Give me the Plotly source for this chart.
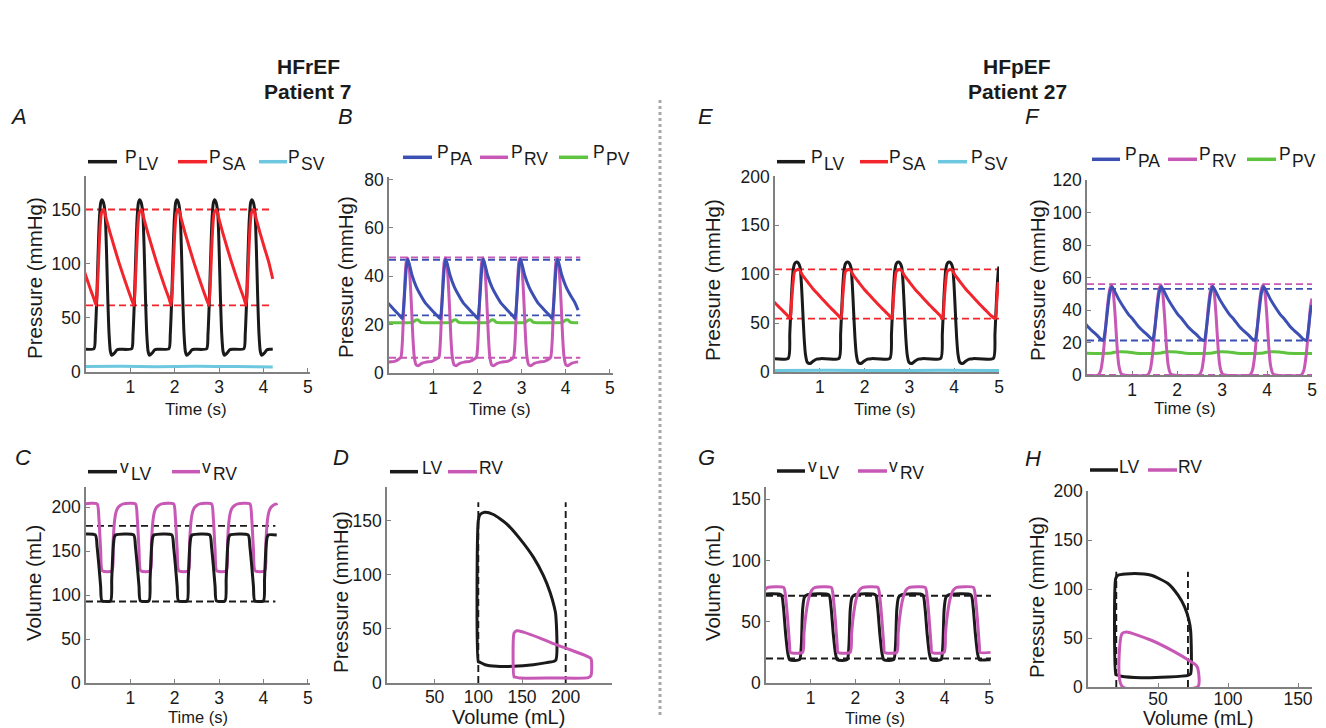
import plotly.graph_objects as go

W, H = 1326, 728
FONT = "Liberation Sans, Arial, Helvetica, sans-serif"
TXT = "#1a1a1a"
BLACK = "#1a1a1a"
RED = "#f2242c"
CYAN = "#6dc8df"
BLUE = "#3c4fb3"
PINK = "#c858b6"
GREEN = "#5ec43f"
AXIS = "#808080"

# ---------------- data ----------------
# Each waveform is one cardiac cycle (offset from a beat marker, value)
# repeated at the beat times of its panel.

# HFrEF (patient 7) - systemic pressures, panel A; beat marker = P_LV peak (s)
A_BEATS = [-0.485, 0.36, 1.21, 2.05, 2.90, 3.74]
A_END = 4.21
A_PLV_OFF = [-0.18, -0.15, -0.12, -0.09, -0.06, -0.03, 0.0, 0.03, 0.07, 0.10, 0.13, 0.16, 0.19, 0.22, 0.28, 0.34, 0.40]
A_PLV = [21.5, 35, 65, 105, 140, 156, 159, 157, 147, 115, 70, 35, 19, 15.5, 17.5, 20.5, 21]
A_PSA_OFF = [-0.13, -0.10, -0.07, -0.04, -0.01, 0.04, 0.10, 0.18, 0.28, 0.38, 0.48, 0.58, 0.66]
A_PSA = [61.5, 80, 110, 135, 147, 150, 141, 129, 115, 101.5, 89, 77, 68]
A_PSV_T = [0, 0.8, 1.6, 2.5, 3.4, 4.21]
A_PSV = [5.0, 5.3, 4.9, 5.3, 5.0, 4.6]
A_PSA_LIM = [150, 61.5]

# HFrEF - pulmonary pressures, panel B; beat marker = P_PA peak (s)
B_BEATS = [-0.425, 0.42, 1.28, 2.13, 2.97, 3.81]
B_END = 4.28
B_PPA_OFF = [-0.12, -0.09, -0.06, -0.03, 0.0, 0.04, 0.10, 0.20, 0.30, 0.40, 0.50, 0.60, 0.68]
B_PPA = [22.5, 27, 35, 43, 47, 45, 40.5, 35.5, 32, 29, 27, 25, 23.5]
B_PRV_OFF = [-0.15, -0.12, -0.09, -0.06, -0.03, 0.0, 0.03, 0.06, 0.09, 0.12, 0.15, 0.19, 0.24, 0.32, 0.42, 0.55, 0.65]
B_PRV = [6.5, 12, 25, 38, 46, 47.5, 45, 38, 27, 15, 7, 3.5, 3, 4, 4.5, 4.8, 5.8]
B_PPV_OFF = [-0.12, 0.12, 0.18, 0.24, 0.30, 0.45]
B_PPV = [20.8, 20.9, 21.8, 21.9, 20.9, 20.8]
B_PPA_LIM = [46.8, 23.8]
B_PRV_LIM = [47.8, 6.3]

# HFrEF - ventricular volumes, panel C; beat marker = start of LV ejection (s)
C_BEATS = [-0.65, 0.21, 1.075, 1.935, 2.79, 3.655]
C_END = 4.30
C_VLV_OFF = [0.0, 0.04, 0.08, 0.12, 0.15, 0.345, 0.37, 0.40, 0.43, 0.46]
C_VLV = [168.5, 155, 134, 110, 93.5, 93.5, 118, 152, 166, 168.5]
C_VRV_OFF = [0.04, 0.08, 0.12, 0.16, 0.375, 0.40, 0.435, 0.47, 0.51, 0.56, 0.63]
C_VRV = [203.8, 188, 152, 127.6, 127.6, 160, 185, 195, 199.5, 202, 203.8]
C_VLV_LIM = [178.8, 92.8]

# HFrEF - pressure-volume loops, panel D
D_LV_V = [100, 100, 102, 107.6, 117.2, 132.4, 147.7, 163, 174.4, 182, 187, 188.5, 188.5, 178.2, 163, 140.1, 121, 107.7, 101, 100]
D_LV_P = [19.4, 150, 155.6, 157.7, 155.6, 147, 133.1, 116.2, 99.3, 84, 70, 64, 20.9, 18.8, 16.9, 15.4, 15.4, 16.9, 19.4, 19.4]
D_RV_V = [140.9, 140.9, 144, 151.6, 170.6, 185.9, 205, 224, 229, 229, 226, 186, 147.7, 142, 140.9]
D_RV_P = [5.5, 46.1, 48.3, 47, 41.5, 36.3, 30.7, 24.9, 22.4, 7, 4.9, 4.6, 4.6, 5.5, 5.5]
D_V_LIM = [100, 200]
D_V_LIM_TOP = 167

# HFpEF (patient 27) - systemic pressures, panel E; beat marker = P_LV peak (s)
E_BEATS = [-0.655, 0.48, 1.615, 2.75, 3.885, 5.06]
E_END = 5.0
E_PLV_OFF = [-0.185, -0.15, -0.11, -0.075, -0.04, 0.0, 0.04, 0.08, 0.11, 0.14, 0.17, 0.20, 0.24, 0.30, 0.37, 0.45, 0.55]
E_PLV = [14, 39, 80, 104, 111, 112.5, 111.5, 107, 90, 62, 35, 18, 10, 8.6, 11, 13.2, 13.7]
E_PSA_OFF = [-0.14, -0.11, -0.075, -0.04, 0.05, 0.15, 0.26, 0.37, 0.48, 0.59, 0.70, 0.81, 0.93]
E_PSA = [54.6, 72, 92, 103, 105, 98, 91.5, 85, 79.5, 74, 68.5, 63.5, 58]
E_PSV_T = [0, 1.2, 2.5, 3.7, 5.0]
E_PSV = [1.5, 1.8, 1.5, 1.8, 1.5]
E_PSA_LIM = [105, 54.6]

# HFpEF - pulmonary pressures, panel F; beat marker = P_PA peak (s)
F_BEATS = [-0.58, 0.547, 1.644, 2.79, 3.918, 5.06]
F_END = 5.0
F_PPA_OFF = [-0.185, -0.14, -0.09, -0.045, 0.0, 0.05, 0.15, 0.26, 0.37, 0.48, 0.59, 0.70, 0.80, 0.89]
F_PPA = [21.3, 28, 40, 50, 54.4, 52.5, 47, 42, 37.5, 34, 30, 27, 24.5, 22]
F_PRV_OFF = [-0.30, -0.24, -0.19, -0.14, -0.09, -0.04, 0.0, 0.04, 0.08, 0.12, 0.16, 0.21, 0.27]
F_PRV = [0, 3, 12, 27, 43, 53, 55.5, 50, 36, 18, 6, 1, 0]
F_PPV_OFF = [-0.30, 0.0, 0.15, 0.35, 0.55]
F_PPV = [13.3, 13.6, 14.3, 14.2, 13.4]
F_PPA_LIM = [53, 21.2]
F_PRV_LIM = [55.9, 0]

# HFpEF - ventricular volumes, panel G; beat marker = start of LV filling (s)
G_BEATS = [-0.287, 0.77, 1.837, 2.88, 3.94, 5.02]
G_END = 5.03
G_VLV_OFF = [-0.43, -0.38, -0.33, -0.28, -0.24, -0.02, 0.02, 0.05, 0.09, 0.15]
G_VLV = [72, 62, 40, 24, 19, 19, 30, 60, 70, 72]
G_VRV_OFF = [-0.374, -0.33, -0.28, -0.24, -0.225, 0.05, 0.08, 0.11, 0.18, 0.26, 0.33]
G_VRV = [78, 70, 50, 30, 25, 25, 40, 52, 68, 76, 78]
G_VLV_LIM = [71.2, 20]

# HFpEF - pressure-volume loops, panel H
H_LV_V = [19.8, 19.8, 21.4, 33.3, 45.2, 57.1, 64.3, 69, 72.1, 73.3, 73.3, 71.4, 57.1, 38, 23.8, 20.2, 19.8]
H_LV_P = [12.6, 110.7, 114, 115.8, 114, 105.6, 93.7, 81.8, 68.1, 57.9, 13.6, 11.9, 10.2, 9.5, 10.9, 12.6, 12.6]
H_RV_V = [24.3, 24.3, 27.4, 45.2, 61.9, 73.8, 77.4, 78.6, 78.6, 24.3]
H_RV_P = [0.7, 54.5, 56.2, 47.7, 35.8, 25.6, 22, 18, 0.5, 0.7]
H_V_LIM = [20.2, 71.4]
H_V_LIM_TOP = 117.5


def periodic(beats, offs, vals, t_end, end=None):
    """Repeat one measured cycle at every beat time, up to t_end."""
    pts = []
    for b in beats:
        for o, v in zip(offs, vals):
            t = round(b + o, 4)
            if t <= t_end:
                pts.append((t, v))
    pts.sort()
    if end is not None:
        pts.append((t_end, end))
    return [p[0] for p in pts], [p[1] for p in pts]


# ---------------- layout of the eight panels (pixel boxes) ----------------
PANELS = {
    "A": dict(n=1, px=(86, 310), py=(176, 372), xr=[0, 5.05], yr=[0, 181], xt=[1, 2, 3, 4, 5], yt=[0, 50, 100, 150]),
    "B": dict(n=2, px=(389, 613), py=(177, 373), xr=[0, 5.07], yr=[0, 81], xt=[1, 2, 3, 4, 5], yt=[0, 20, 40, 60, 80]),
    "C": dict(n=3, px=(86, 310), py=(487, 683), xr=[0, 5.05], yr=[0, 223], xt=[1, 2, 3, 4, 5], yt=[0, 50, 100, 150, 200]),
    "D": dict(n=4, px=(387, 612), py=(487, 683), xr=[-4.5, 253], yr=[0, 181], xt=[50, 100, 150, 200], yt=[0, 50, 100, 150]),
    "E": dict(n=5, px=(775, 999), py=(176, 372), xr=[0, 5.0], yr=[0, 200.5], xt=[1, 2, 3, 4, 5], yt=[0, 50, 100, 150, 200]),
    "F": dict(n=6, px=(1087, 1312), py=(180, 375), xr=[0, 5.0], yr=[0, 120], xt=[1, 2, 3, 4, 5], yt=[0, 20, 40, 60, 80, 100, 120]),
    "G": dict(n=7, px=(766, 991), py=(487, 683), xr=[0, 5.04], yr=[0, 160], xt=[1, 2, 3, 4, 5], yt=[0, 50, 100, 150]),
    "H": dict(n=8, px=(1088, 1312), py=(491, 687), xr=[0, 160], yr=[0, 200], xt=[50, 100, 150], yt=[0, 50, 100, 150, 200]),
}
X_LABEL_STANDOFF = {"D": -3, "H": -5}

fig = go.Figure()
layout = dict(
    width=W, height=H,
    margin=dict(l=0, r=0, t=0, b=0, pad=0, autoexpand=False),
    paper_bgcolor="white", plot_bgcolor="white", showlegend=False,
    font=dict(family=FONT, color=TXT),
)
for key, p in PANELS.items():
    n = p["n"]
    sfx = "" if n == 1 else str(n)
    common = dict(showgrid=False, zeroline=False, showline=True, linecolor=AXIS, linewidth=1.6,
                  ticks="inside", ticklen=4, tickwidth=1.2, tickcolor=AXIS, automargin=False,
                  tickfont=dict(family=FONT, size=17.5, color=TXT), layer="below traces", fixedrange=True)
    layout["xaxis" + sfx] = dict(domain=[p["px"][0] / W, p["px"][1] / W], range=p["xr"],
                                 tickvals=p["xt"], anchor="y" + sfx,
                                 ticklabelstandoff=X_LABEL_STANDOFF.get(key, -2), **common)
    layout["yaxis" + sfx] = dict(domain=[1 - p["py"][1] / H, 1 - p["py"][0] / H], range=p["yr"],
                                 tickvals=p["yt"], anchor="x" + sfx, **common)
fig.update_layout(**layout)


def ax(key):
    n = PANELS[key]["n"]
    return ("x", "y") if n == 1 else ("x%d" % n, "y%d" % n)


def trace(key, x, y, color, width=3.0, smooth=True, dash=None):
    xa, ya = ax(key)
    fig.add_trace(go.Scatter(
        x=x, y=y, mode="lines", xaxis=xa, yaxis=ya, hoverinfo="skip",
        line=dict(color=color, width=width, dash=dash,
                  shape="spline" if smooth else "linear", smoothing=0.6),
    ))


def hlines(key, levels, t_end, color):
    for v in levels:
        trace(key, [0, t_end], [v, v], color, width=1.9, smooth=False, dash="7px,4px")


def vlines(key, positions, top, color):
    for v in positions:
        trace(key, [v, v], [0, top], color, width=1.9, smooth=False, dash="7px,4px")


# panel A
hlines("A", A_PSA_LIM, A_END, RED)
trace("A", A_PSV_T, A_PSV, CYAN)
trace("A", *periodic(A_BEATS, A_PLV_OFF, A_PLV, A_END, end=21), BLACK)
trace("A", *periodic(A_BEATS, A_PSA_OFF, A_PSA, A_END, end=86), RED)

# panel B
hlines("B", B_PRV_LIM, 4.33, PINK)
hlines("B", B_PPA_LIM, 4.33, BLUE)
trace("B", *periodic(B_BEATS, B_PPV_OFF, B_PPV, B_END, end=20.8), GREEN)
trace("B", *periodic(B_BEATS, B_PRV_OFF, B_PRV, B_END, end=4.6), PINK)
trace("B", *periodic(B_BEATS, B_PPA_OFF, B_PPA, B_END, end=26), BLUE)

# panel C
hlines("C", C_VLV_LIM, 4.27, BLACK)
trace("C", *periodic(C_BEATS, C_VRV_OFF, C_VRV, C_END, end=202), PINK)
trace("C", *periodic(C_BEATS, C_VLV_OFF, C_VLV, C_END, end=168.5), BLACK)

# panel D
vlines("D", D_V_LIM, D_V_LIM_TOP, BLACK)
trace("D", D_LV_V, D_LV_P, BLACK, smooth=True)
trace("D", D_RV_V, D_RV_P, PINK, smooth=True)

# panel E
hlines("E", E_PSA_LIM, E_END, RED)
trace("E", E_PSV_T, E_PSV, CYAN)
trace("E", *periodic(E_BEATS, E_PLV_OFF, E_PLV, E_END, end=108), BLACK)
trace("E", *periodic(E_BEATS, E_PSA_OFF, E_PSA, E_END), RED)

# panel F
hlines("F", F_PRV_LIM, F_END, PINK)
hlines("F", F_PPA_LIM, F_END, BLUE)
trace("F", *periodic(F_BEATS, F_PPV_OFF, F_PPV, F_END, end=13.3), GREEN)
trace("F", *periodic(F_BEATS, F_PRV_OFF, F_PRV, F_END, end=47), PINK)
trace("F", *periodic(F_BEATS, F_PPA_OFF, F_PPA, F_END, end=43), BLUE)

# panel G
hlines("G", G_VLV_LIM, 5.04, BLACK)
trace("G", *periodic(G_BEATS, G_VLV_OFF, G_VLV, G_END, end=19), BLACK)
trace("G", *periodic(G_BEATS, G_VRV_OFF, G_VRV, G_END, end=25), PINK)

# panel H
vlines("H", H_V_LIM, H_V_LIM_TOP, BLACK)
trace("H", H_LV_V, H_LV_P, BLACK, smooth=True)
trace("H", H_RV_V, H_RV_P, PINK, smooth=True)


# ---------------- text ----------------
def text(x, y, s, size, **kw):
    fig.add_annotation(x=x / W, y=1 - y / H, xref="paper", yref="paper", text=s, showarrow=False,
                       borderpad=0, font=dict(family=FONT, size=size, color=TXT), **kw)


def legend(y_line, entries):
    for x0, x1, color, tx, main, sub in entries:
        fig.add_shape(type="line", xref="paper", yref="paper", x0=x0 / W, x1=x1 / W,
                      y0=1 - y_line / H, y1=1 - y_line / H, line=dict(color=color, width=3.5))
        if sub:
            text(tx, y_line - 5, main, 17.5, xanchor="left", yanchor="middle")
            shift = 12.5 if main == "P" else 11
            text(tx + shift, y_line + 2, sub, 17.5, xanchor="left", yanchor="middle")
        else:
            text(tx, y_line - 3.5, main, 17.5, xanchor="left", yanchor="middle")


legend(161.7, [(88, 117, BLACK, 124, "P", "LV"), (178, 207, RED, 208, "P", "SA"), (259, 287, CYAN, 287, "P", "SV")])
legend(157.3, [(403, 432, BLUE, 436, "P", "PA"), (480, 508, PINK, 510, "P", "RV"), (559, 588, GREEN, 592, "P", "PV")])
legend(161.7, [(777, 805, BLACK, 810, "P", "LV"), (860, 888, RED, 888, "P", "SA"), (938, 967, CYAN, 970, "P", "SV")])
legend(159.3, [(1092, 1120, BLUE, 1124, "P", "PA"), (1168, 1197, PINK, 1198, "P", "RV"), (1247, 1276, GREEN, 1278, "P", "PV")])
legend(471.7, [(88, 117, BLACK, 119, "v", "LV"), (172, 200, PINK, 201, "v", "RV")])
legend(471.7, [(390, 418, BLACK, 421, "LV", None), (448, 477, PINK, 478, "RV", None)])
legend(471.0, [(777, 805, BLACK, 807, "v", "LV"), (858, 887, PINK, 888, "v", "RV")])
legend(470.0, [(1090, 1118, BLACK, 1118, "LV", None), (1148, 1177, PINK, 1177, "RV", None)])

# column titles
for cx, l1, l2 in [(308, "HFrEF", "Patient 7"), (1017, "HFpEF", "Patient 27")]:
    text(cx, 66, "<b>%s</b>" % l1, 21, xanchor="center", yanchor="middle")
    text(cx, 91, "<b>%s</b>" % l2, 21, xanchor="center", yanchor="middle")

# panel letters
for lx, ly, s in [(9, 117, "A"), (337, 117, "B"), (697, 117, "E"), (1024, 117, "F"),
                  (14, 457, "C"), (332, 457, "D"), (697, 457, "G"), (1024, 458, "H")]:
    text(lx, ly, "<i>%s</i>" % s, 22, xanchor="left", yanchor="middle")

# axis titles
for tx, ty, s in [(34, 278, "Pressure (mmHg)"), (345, 277, "Pressure (mmHg)"),
                  (712, 280, "Pressure (mmHg)"), (1037, 280, "Pressure (mmHg)"),
                  (33, 583, "Volume (mL)"), (340, 592, "Pressure (mmHg)"),
                  (712, 583, "Volume (mL)"), (1036, 597, "Pressure (mmHg)")]:
    text(tx, ty, s, 20.5, textangle=-90, xanchor="center", yanchor="middle")

for tx, ty, s, sz in [(196, 409, "Time (s)", 17), (500, 409, "Time (s)", 17),
                      (885, 409, "Time (s)", 17), (1185, 408, "Time (s)", 17),
                      (198, 717, "Time (s)", 16.5), (508, 717, "Volume (mL)", 20),
                      (875, 718, "Time (s)", 16.5), (1198, 718, "Volume (mL)", 19.5)]:
    text(tx, ty, s, sz, xanchor="center", yanchor="middle")

# dotted divider between the two patients
fig.add_shape(type="line", xref="paper", yref="paper", x0=660 / W, x1=660 / W,
              y0=1 - 100 / H, y1=1 - 715 / H, line=dict(color="#a8a8a8", width=3, dash="dot"))

fig.write_html("out.html")
